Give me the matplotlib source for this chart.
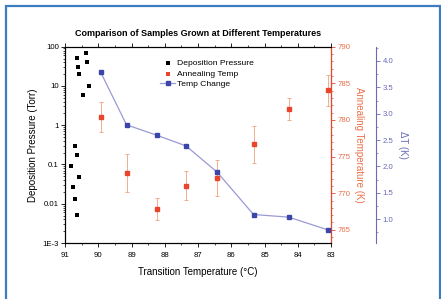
import matplotlib
matplotlib.use("Agg")
import matplotlib.pyplot as plt
from matplotlib.ticker import MultipleLocator, LogLocator, FixedLocator, FixedFormatter
from matplotlib.patches import Rectangle

# Data
dep_T = [90.65, 90.36, 90.60, 90.59, 90.33, 90.27, 90.45,
         90.71, 90.64, 90.81, 90.59, 90.77, 90.71, 90.64]
dep_P = [50.5, 70, 29.6, 19.6, 39.8, 9.8, 5.9,
         0.297, 0.174, 0.089, 0.049, 0.0273, 0.0132, 0.0052]

ann_T = [89.93, 89.15, 88.23, 87.36, 86.42, 85.33, 84.27, 83.10]
ann_K = [780.45, 772.78, 767.83, 771.05, 772.05, 776.69, 781.46, 784.05]
ann_err = [2.05, 2.6, 1.5, 2.0, 2.5, 2.5, 1.5, 2.1]

dT_T = [89.93, 89.15, 88.23, 87.36, 86.42, 85.33, 84.27, 83.10]
dT_K = [3.79, 2.79, 2.59, 2.39, 1.89, 1.09, 1.04, 0.80]

title = "Comparison of Samples Grown at Different Temperatures"

RED = "#e8452c"
RED_TXT = "#e8704a"
BLUE = "#3b46a8"
BLUE_LINE = "#9a9ad6"
BLUE_AX = "#6a6ab8"

plt.rcParams['font.family'] = ['Liberation Sans', 'DejaVu Sans']
fs = 5.6
lfs = 7.0

fig = plt.figure(figsize=(4.41, 2.99), dpi=100)
fig.patch.set_facecolor("white")
# blue frame
fig.patches.append(Rectangle((6/441, -0.05), (434)/441, 1 - 6/299 + 0.05,
                             transform=fig.transFigure, fill=False,
                             edgecolor="#3d7cc0", linewidth=1.6))

ax = fig.add_axes([65/441, 1 - 243/299, (331 - 65)/441, (243 - 46.7)/299])
ax.set_xlim(91, 83)
ax.set_yscale("log")
ax.set_ylim(1e-3, 100)
h1 = ax.scatter(dep_T, dep_P, marker="s", s=10, color="black", zorder=3,
                label="Deposition Pressure", linewidths=0)
ax.xaxis.set_major_locator(MultipleLocator(1))
ax.xaxis.set_minor_locator(MultipleLocator(0.5))
ax.yaxis.set_major_locator(FixedLocator([1e-3, 1e-2, 1e-1, 1, 10, 100]))
ax.yaxis.set_major_formatter(FixedFormatter(["1E-3", "0.01", "0.1", "1", "10", "100"]))
ax.yaxis.set_minor_locator(LogLocator(base=10, subs=range(2, 10), numticks=20))
ax.tick_params(axis="both", which="major", labelsize=fs, length=3, width=0.6, direction="out", pad=1.5)
ax.tick_params(axis="x", which="major", pad=3.5)
ax.tick_params(axis="both", which="minor", length=1.6, width=0.5, direction="out")
ax.tick_params(axis="x", top=True, which="both")
for s in ax.spines.values():
    s.set_linewidth(0.8)
ax.set_xlabel("Transition Temperature (°C)", fontsize=lfs, labelpad=6)
ax.set_ylabel("Deposition Pressure (Torr)", fontsize=lfs, labelpad=3)
ax.set_title(title, fontsize=6.5, fontweight="bold", pad=8)

# annealing axis
ax2 = ax.twinx()
ax2.set_ylim(763.2, 790)
ax2.errorbar(ann_T, ann_K, yerr=ann_err, fmt="s", ms=3.5, color=RED,
             ecolor="#f0a080", elinewidth=0.6, capsize=1.2, capthick=0.6, zorder=3)
h2 = ax2.scatter([], [], marker="s", s=10, color=RED, label="Annealing Temp", linewidths=0)
ax2.yaxis.set_major_locator(MultipleLocator(5))
ax2.yaxis.set_minor_locator(MultipleLocator(1))
ax2.tick_params(axis="y", which="major", labelsize=fs, length=3, width=0.6, colors=RED, labelcolor=RED_TXT, pad=1.5)
ax2.tick_params(axis="y", which="minor", length=1.6, width=0.5, colors=RED)
ax2.spines["right"].set_color(RED)
ax2.spines["right"].set_linewidth(0.8)
ax2.set_ylabel("Annealing Temperature (K)", fontsize=lfs, color=RED_TXT, rotation=270, labelpad=10)

# delta T axis
ax3 = ax.twinx()
ax3.spines["right"].set_position(("outward", 32.5))
ax3.set_ylim(0.55, 4.27)
ax3.plot(dT_T, dT_K, "-", color=BLUE_LINE, lw=0.9, zorder=2)
ax3.plot(dT_T, dT_K, "s", color=BLUE, ms=3.4, zorder=3)
h3, = ax3.plot([], [], "-s", color=BLUE_LINE, mfc=BLUE, mec=BLUE, ms=3.4, lw=0.9,
               markevery=[1], label="Temp Change")
ax3.yaxis.set_major_locator(MultipleLocator(0.5))
ax3.yaxis.set_minor_locator(MultipleLocator(0.25))
ax3.tick_params(axis="y", which="major", labelsize=fs, length=3, width=0.6, colors=BLUE_AX, labelcolor=BLUE_AX, pad=1.5)
ax3.tick_params(axis="y", which="minor", length=1.6, width=0.5, colors=BLUE_AX)
ax3.spines["right"].set_color(BLUE_AX)
ax3.spines["right"].set_linewidth(0.8)
for sp in ["top", "bottom", "left"]:
    ax3.spines[sp].set_visible(False)
ax3.set_ylabel("ΔT (K)", fontsize=lfs, color=BLUE_AX, rotation=270, labelpad=11)

leg = ax.legend(handles=[h1, h2, h3], loc="upper left", bbox_to_anchor=(0.335, 0.965),
                fontsize=6.1, frameon=False, handlelength=1.8, handletextpad=0.2,
                borderpad=0.2, labelspacing=0.3)

fig.savefig("out.png", dpi=100)
